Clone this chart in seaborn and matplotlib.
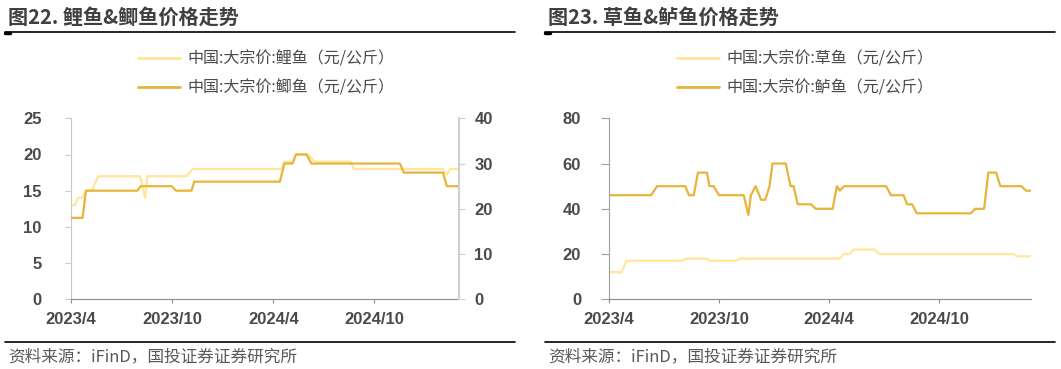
import pandas as pd
import numpy as np
import matplotlib.pyplot as plt
import matplotlib.lines as mlines
import seaborn as sns

# ---- data ----
carp_dates = ['2023-04-01', '2023-04-08', '2023-04-14', '2023-04-22', '2023-04-28', '2023-05-09',
              '2023-05-20', '2023-08-04', '2023-08-13', '2023-08-17', '2023-10-27', '2023-11-07',
              '2024-04-16', '2024-04-21', '2024-05-06', '2024-05-12', '2024-06-03', '2024-06-15',
              '2024-08-19', '2024-08-25', '2025-02-02', '2025-02-09', '2025-02-15', '2025-03-03']
carp_values = [13, 13, 14, 14, 15, 15,
               17, 17, 14, 17, 17, 18,
               18, 19, 19, 20, 20, 19,
               19, 18, 18, 17.2, 18, 18]

crucian_dates = ['2023-04-01', '2023-04-22', '2023-04-28', '2023-07-30', '2023-08-05', '2023-09-30',
                 '2023-10-08', '2023-11-05', '2023-11-10', '2024-04-13', '2024-04-21', '2024-05-06',
                 '2024-05-12', '2024-05-31', '2024-06-09', '2024-11-16', '2024-11-23', '2025-02-02',
                 '2025-02-09', '2025-03-03']
crucian_values = [18, 18, 24, 24, 25, 25,
                  24, 24, 26, 26, 30, 30,
                  32, 32, 30, 30, 28, 28,
                  25, 25]

grass_dates = ['2023-04-01', '2023-04-22', '2023-04-30', '2023-07-30', '2023-08-08', '2023-09-11',
               '2023-09-16', '2023-10-28', '2023-11-06', '2024-04-18', '2024-04-26', '2024-05-05',
               '2024-05-12', '2024-06-15', '2024-06-24', '2025-02-01', '2025-02-08', '2025-03-03']
grass_values = [12, 12, 17, 17, 18, 18,
                17, 17, 18, 18, 20, 20,
                22, 22, 20, 20, 19, 19]

bass_dates = ['2023-04-01', '2023-06-10', '2023-06-20', '2023-08-06', '2023-08-12', '2023-08-20',
              '2023-08-27', '2023-09-11', '2023-09-15', '2023-09-22', '2023-10-01', '2023-11-11',
              '2023-11-19', '2023-11-23', '2023-12-01', '2023-12-10', '2023-12-17', '2023-12-24',
              '2023-12-29', '2024-01-20', '2024-01-28', '2024-02-02', '2024-02-09', '2024-03-02',
              '2024-03-10', '2024-04-07', '2024-04-14', '2024-04-19', '2024-04-26', '2024-07-05',
              '2024-07-13', '2024-08-03', '2024-08-09', '2024-08-17', '2024-08-25', '2024-11-23',
              '2024-11-30', '2024-12-15', '2024-12-22', '2025-01-04', '2025-01-11', '2025-02-15',
              '2025-02-23', '2025-03-03']
bass_values = [46, 46, 50, 50, 46, 46,
               56, 56, 50, 50, 46, 46,
               37.3, 46, 50, 44, 44, 50,
               60, 60, 50, 50, 42, 42,
               40, 40, 50, 48, 50, 50,
               46, 46, 42, 42, 38, 38,
               40, 40, 56, 56, 50, 50,
               48, 48]

tick_dates = ['2023-04-01', '2023-10-01', '2024-04-01', '2024-10-01']
tick_labels = ['2023/4', '2023/10', '2024/4', '2024/10']

left_title = '图22. 鲤鱼&鲫鱼价格走势'
right_title = '图23. 草鱼&鲈鱼价格走势'
carp_label = '中国:大宗价:鲤鱼（元/公斤）'
crucian_label = '中国:大宗价:鲫鱼（元/公斤）'
grass_label = '中国:大宗价:草鱼（元/公斤）'
bass_label = '中国:大宗价:鲈鱼（元/公斤）'
source = '资料来源：iFinD，国投证券证券研究所'

LIGHT = '#FFE699'
DARK = '#E8B439'
TXT = '#4a4a4a'

sns.set_style('white')
plt.rcParams['font.family'] = ['Noto Sans CJK SC', 'DejaVu Sans']


def frame(dates, values):
    return pd.DataFrame({'date': pd.to_datetime(dates), 'value': values})


W, H = 1061, 369
fig = plt.figure(figsize=(W / 100, H / 100), dpi=100)


def fx(px):
    return px / W


def fy(py):
    return 1 - py / H


ax_l = fig.add_axes([fx(71), fy(299.3), fx(459 - 71), fy(118.3) - fy(299.3)])
ax_r = fig.add_axes([fx(609), fy(299.3), fx(1031 - 609), fy(118.3) - fy(299.3)])
ax_l2 = ax_l.twinx()

sns.lineplot(data=frame(carp_dates, carp_values), x='date', y='value', ax=ax_l, color=LIGHT, lw=1.6)
sns.lineplot(data=frame(crucian_dates, crucian_values), x='date', y='value', ax=ax_l2, color=DARK, lw=1.6)
sns.lineplot(data=frame(grass_dates, grass_values), x='date', y='value', ax=ax_r, color=LIGHT, lw=1.6)
sns.lineplot(data=frame(bass_dates, bass_values), x='date', y='value', ax=ax_r, color=DARK, lw=1.6)

xmin, xmax = pd.Timestamp('2023-04-01'), pd.Timestamp('2025-03-03')
ticks = pd.to_datetime(tick_dates)

for ax in (ax_l, ax_l2, ax_r):
    ax.set_xlim(xmin, xmax)
    ax.set_xlabel('')
    ax.set_ylabel('')
    ax.set_xticks(ticks)
    ax.set_xticklabels(tick_labels)
    for s in ax.spines.values():
        s.set_visible(False)

ax_l.set_ylim(0, 25)
ax_l.set_yticks(np.arange(0, 26, 5))
ax_l2.set_ylim(0, 40)
ax_l2.set_yticks(np.arange(0, 41, 10))
ax_r.set_ylim(0, 80)
ax_r.set_yticks(np.arange(0, 81, 20))

ax_l.spines['left'].set_visible(True)
ax_l.spines['left'].set_color('#c8c8c8')
ax_l.spines['bottom'].set_visible(True)
ax_l.spines['bottom'].set_color('#8c8c8c')
ax_l2.spines['right'].set_visible(True)
ax_l2.spines['right'].set_color('#d0d0d0')
ax_l2.spines['right'].set_linewidth(1.5)
ax_r.spines['left'].set_visible(True)
ax_r.spines['left'].set_color('#a0a0a0')
ax_r.spines['bottom'].set_visible(True)
ax_r.spines['bottom'].set_color('#8c8c8c')

ax_l.tick_params(axis='y', left=True, length=4, color='#c8c8c8', pad=17, labelsize=12, labelcolor=TXT)
ax_l.tick_params(axis='x', bottom=True, length=3, color='#8c8c8c', pad=6, labelsize=12, labelcolor=TXT)
ax_l2.tick_params(axis='y', right=True, length=4, color='#d0d0d0', pad=7, labelsize=12, labelcolor=TXT)
ax_l2.tick_params(axis='x', bottom=False, labelbottom=False)
ax_r.tick_params(axis='y', left=True, length=6, color='#a0a0a0', pad=14, labelsize=12, labelcolor=TXT)
ax_r.tick_params(axis='x', bottom=True, length=3, color='#8c8c8c', pad=6, labelsize=12, labelcolor=TXT)

for ax in (ax_l, ax_l2, ax_r):
    for lab in ax.get_xticklabels() + ax.get_yticklabels():
        lab.set_fontfamily('Liberation Sans')
        lab.set_fontweight('bold')

# titles and rules
for x0, x1, title in ((5, 515, left_title), (545, 1055, right_title)):
    fig.text(fx(x0 + 3), fy(17), title, fontsize=14.5, color='#404040', fontweight='bold',
             va='center', ha='left')
    fig.add_artist(mlines.Line2D([fx(x0), fx(x1)], [fy(32), fy(32)], color='black', lw=1.2))
    fig.add_artist(mlines.Line2D([fx(x0), fx(x0 + 5)], [fy(32.8), fy(32.8)], color='black', lw=2.5))

# source rules + text
for x0, x1 in ((5, 515), (545, 1055)):
    fig.add_artist(mlines.Line2D([fx(x0), fx(x1)], [fy(341.5), fy(341.5)], color='black', lw=1.2))
    fig.text(fx(x0 + 3), fy(357), source, fontsize=12, color='#595959', va='center', ha='left',
             fontstyle='italic')


# legends
def add_legend(x, labels):
    handles = [mlines.Line2D([], [], color=LIGHT, lw=2),
               mlines.Line2D([], [], color=DARK, lw=2)]
    fig.legend(handles, labels, loc='upper left', bbox_to_anchor=(fx(x), fy(50.5)),
               bbox_transform=fig.transFigure, frameon=False, fontsize=11.5,
               handlelength=2.6, handletextpad=0.5, labelspacing=0.75,
               borderpad=0, borderaxespad=0, labelcolor=TXT)


add_legend(138, [carp_label, crucian_label])
add_legend(677, [grass_label, bass_label])

fig.savefig('out.png', dpi=100)
